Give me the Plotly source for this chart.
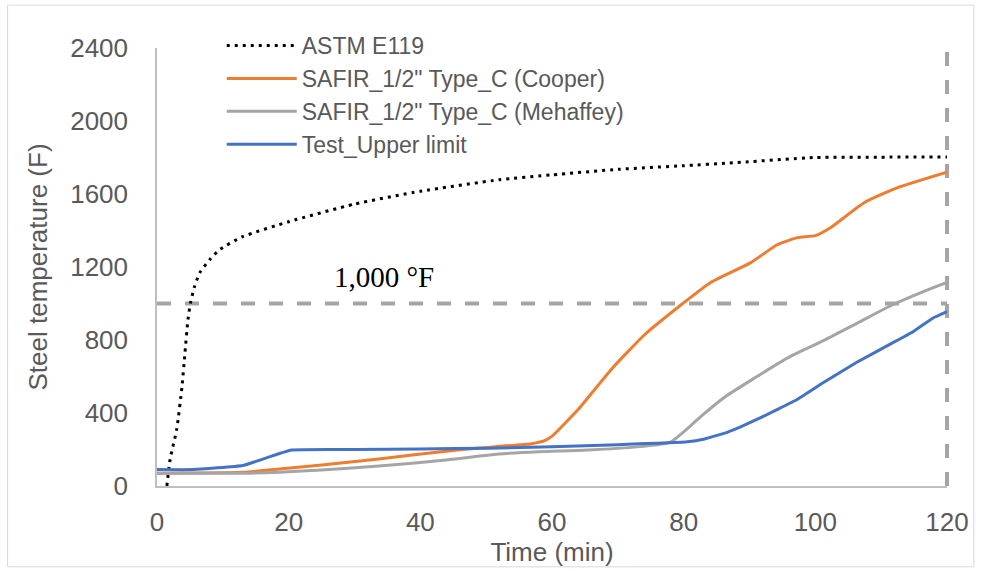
import plotly.graph_objects as go

# ---- data ----
astm_t = [1.5, 2, 3, 3.8, 4.2, 4.7, 5.1, 5.7, 6.5, 8, 9.5, 13, 20, 30, 40, 52, 60, 70, 80, 87, 100, 110, 120]
astm_T = [0, 148, 311, 546, 710, 912, 1005, 1093, 1169, 1240, 1295, 1366, 1448, 1545, 1615, 1678, 1705, 1735, 1755, 1770, 1800, 1802, 1803]

cooper_t = [0, 13, 18.6, 25, 33.7, 43.9, 48.9, 56.9, 59, 60, 64, 69, 74.1, 79.1, 84.1, 90.2, 94.2, 97.3, 100, 102.3, 107.4, 112.4, 120]
cooper_T = [70, 75, 93, 115, 148, 191, 208, 232, 250, 273, 420, 639, 830, 978, 1115, 1224, 1322, 1361, 1372, 1415, 1552, 1634, 1720]

meh_t = [0, 13, 18.6, 25, 33.7, 43.9, 51.9, 58, 65.5, 75.6, 78, 79.6, 82.6, 86.2, 91.2, 96.2, 101.3, 106.3, 111.3, 116.5, 120]
meh_T = [70, 70, 76, 88, 109, 142, 175, 188, 197, 224, 240, 284, 380, 486, 601, 710, 798, 891, 985, 1066, 1115]

test_t = [0, 5.5, 13, 20.4, 30, 40, 50.4, 60, 70, 80.6, 83.2, 86.7, 91.2, 97.3, 101.3, 106.3, 111.3, 114.9, 118, 120]
test_T = [90, 90, 112, 197, 200, 203, 207, 215, 226, 242, 258, 295, 366, 475, 568, 678, 776, 847, 923, 956]

limit_T = 1000
end_t = 120

x_ticks = [0, 20, 40, 60, 80, 100, 120]
y_ticks = [0, 400, 800, 1200, 1600, 2000, 2400]

# ---- layout constants ----
W, H = 981, 571
ML, MR, MT, MB = 157, 31, 48, 84
PW, PH = W - ML - MR, H - MT - MB
TXT = "#595959"
FONT = "Liberation Sans, Arial, sans-serif"

fig = go.Figure()
fig.add_trace(go.Scatter(x=astm_t, y=astm_T, mode="lines", name="ASTM E119",
                         line=dict(color="black", width=3, dash="3px,5px", shape="spline", smoothing=0.5),
                         legendgroup="a"))
fig.add_trace(go.Scatter(x=cooper_t, y=cooper_T, mode="lines", name="SAFIR_1/2\" Type_C (Cooper)",
                         line=dict(color="#ED7D31", width=3, shape="spline", smoothing=0.5),
                         legendgroup="b"))
fig.add_trace(go.Scatter(x=meh_t, y=meh_T, mode="lines", name="SAFIR_1/2\" Type_C (Mehaffey)",
                         line=dict(color="#A5A5A5", width=3, shape="spline", smoothing=0.8),
                         legendgroup="c"))
fig.add_trace(go.Scatter(x=test_t, y=test_T, mode="lines", name="Test_Upper limit",
                         line=dict(color="#4472C4", width=3, shape="spline", smoothing=0.3),
                         legendgroup="d"))

# outer chart border helpers
def px2paper_x(p):
    return (p - ML) / PW

def px2paper_y(p):
    return 1 - (p - MT) / PH

# reference lines
fig.add_shape(type="line", xref="x", yref="y", x0=0, x1=end_t, y0=limit_T, y1=limit_T,
              line=dict(color="#A5A5A5", width=4, dash="14px,14px"), layer="below")
fig.add_shape(type="line", xref="paper", yref="y", x0=1, x1=1, y0=0, y1=y_ticks[-1],
              line=dict(color="#A5A5A5", width=4, dash="14px,14px"), layer="below")

fig.add_shape(type="rect", xref="paper", yref="paper",
              x0=px2paper_x(7), x1=px2paper_x(977), y0=px2paper_y(5), y1=px2paper_y(568),
              line=dict(color="#D9D9D9", width=1), fillcolor="rgba(0,0,0,0)")

fig.add_annotation(x=34.5, y=1145, xref="x", yref="y", text="1,000 °F", showarrow=False,
                   font=dict(family="Liberation Serif, Times New Roman, serif", size=29, color="black"))

fig.update_layout(
    width=W, height=H,
    margin=dict(l=ML, r=MR, t=MT, b=MB, pad=0),
    paper_bgcolor="white", plot_bgcolor="white",
    font=dict(family=FONT, color=TXT, size=26),
    showlegend=True,
    legend=dict(x=px2paper_x(222), y=px2paper_y(24), xanchor="left", yanchor="top",
                font=dict(family=FONT, size=23, color=TXT), bgcolor="rgba(0,0,0,0)",
                tracegroupgap=0, itemwidth=70),
    xaxis=dict(range=[0, 120], tickvals=x_ticks, showgrid=False, zeroline=False,
               showline=True, linecolor="#BFBFBF", linewidth=1.5, ticks="",
               ticklabelstandoff=12,
               title=dict(text="Time (min)", standoff=4, font=dict(size=26, color=TXT)),
               tickfont=dict(size=26, color=TXT)),
    yaxis=dict(range=[0, 2400], tickvals=y_ticks, showgrid=False, zeroline=False,
               showline=True, linecolor="#BFBFBF", linewidth=1.5, ticks="",
               ticklabelstandoff=22,
               title=dict(text="Steel temperature (F)", standoff=15, font=dict(size=26, color=TXT)),
               tickfont=dict(size=26, color=TXT)),
)

fig.write_html("out.html")
